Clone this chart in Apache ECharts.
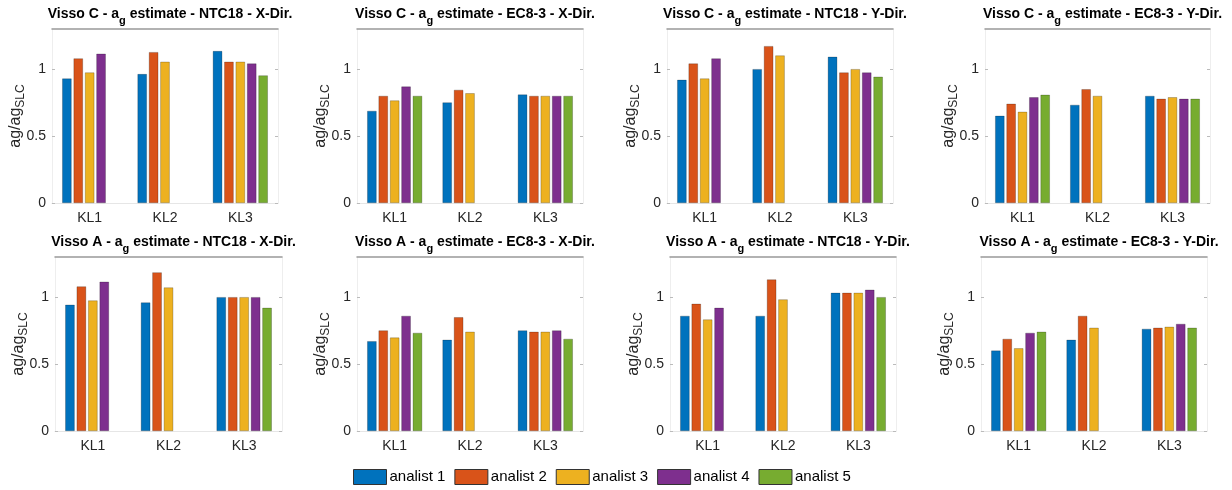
<!DOCTYPE html>
<html>
<head>
<meta charset="utf-8">
<script src="https://cdn.jsdelivr.net/npm/echarts@6/dist/echarts.min.js"></script>
<style>
  html, body { margin: 0; padding: 0; background: #fff; }
  #ec { width: 1232px; height: 490px; }
</style>
</head>
<body>
<div id="ec"></div>
<script>
const categories = ['KL1', 'KL2', 'KL3']
const analists = ['analist 1', 'analist 2', 'analist 3', 'analist 4', 'analist 5']
const yTicks = [0, 0.5, 1]

// one row per analist, values for KL1..KL3 (null = no bar)
const cNtcX = [[0.93, 0.963, 1.135], [1.08, 1.127, 1.055], [0.975, 1.055, 1.055], [1.115, null, 1.042], [null, null, 0.953]]
const cEcX = [[0.688, 0.751, 0.81], [0.80, 0.845, 0.80], [0.766, 0.82, 0.80], [0.87, null, 0.80], [0.80, null, 0.80]]
const cNtcY = [[0.92, 1.0, 1.092], [1.042, 1.172, 0.975], [0.93, 1.102, 1.0], [1.08, null, 0.975], [null, null, 0.943]]
const cEcY = [[0.651, 0.733, 0.80], [0.741, 0.85, 0.778], [0.681, 0.80, 0.79], [0.79, null, 0.778], [0.808, null, 0.778]]
const aNtcX = [[0.943, 0.96, 1.0], [1.08, 1.185, 1.0], [0.975, 1.072, 1.0], [1.115, null, 1.0], [null, null, 0.92]]
const aEcX = [[0.671, 0.681, 0.751], [0.751, 0.85, 0.741], [0.698, 0.741, 0.741], [0.86, null, 0.751], [0.733, null, 0.688]]
const aNtcY = [[0.86, 0.86, 1.032], [0.95, 1.132, 1.032], [0.833, 0.983, 1.032], [0.92, null, 1.055], [null, null, 1.0]]
const aEcY = [[0.601, 0.681, 0.763], [0.688, 0.86, 0.771], [0.618, 0.771, 0.778], [0.733, null, 0.80], [0.741, null, 0.771]]

const panels = [
  { site: 'Visso C', code: 'NTC18', dir: 'X', data: cNtcX },
  { site: 'Visso C', code: 'EC8-3', dir: 'X', data: cEcX },
  { site: 'Visso C', code: 'NTC18', dir: 'Y', data: cNtcY },
  { site: 'Visso C', code: 'EC8-3', dir: 'Y', data: cEcY },
  { site: 'Visso A', code: 'NTC18', dir: 'X', data: aNtcX },
  { site: 'Visso A', code: 'EC8-3', dir: 'X', data: aEcX },
  { site: 'Visso A', code: 'NTC18', dir: 'Y', data: aNtcY },
  { site: 'Visso A', code: 'EC8-3', dir: 'Y', data: aEcY }
]

// plot boxes: left, top, width, height
const boxes = [
  [52, 29, 226, 174], [357, 29, 226, 174], [667, 29, 226, 174], [985, 29, 225, 174],
  [55, 257, 227, 174], [357, 257, 226, 174], [670, 257, 226, 174], [981, 257, 226, 174]
]

const colors = ['#0072BD', '#D95319', '#EDB120', '#7E2F8E', '#77AC30']
const font = "'Liberation Sans', Arial, Helvetica, sans-serif"
const textColor = '#262626'

const grid = [], xAxis = [], yAxis = [], title = [], series = []

panels.forEach((p, i) => {
  const [l, t, w, h] = boxes[i]
  grid.push({ left: l, top: t, width: w, height: h, containLabel: false, outerBoundsMode: 'none' })

  title.push({
    text: '{b|' + p.site + ' - a}{s|g}{b| estimate - ' + p.code + ' - ' + p.dir + '-Dir.}',
    left: l + w / 2,
    top: t - 32,
    textAlign: 'center',
    textStyle: {
      rich: {
        b: { fontFamily: font, fontSize: 14, fontWeight: 'bold', color: '#000' },
        s: { fontFamily: font, fontSize: 11, fontWeight: 'bold', color: '#000', padding: [13, 0, 0, 0] }
      }
    }
  })

  xAxis.push({
    gridIndex: i,
    type: 'category',
    data: categories,
    axisLine: { onZero: false, lineStyle: { color: '#e6e6e6', width: 1 } },
    axisTick: { show: false },
    axisLabel: { color: textColor, fontSize: 14, fontFamily: font, margin: 8 },
    splitLine: { show: false }
  })
  xAxis.push({
    gridIndex: i,
    type: 'category',
    position: 'top',
    data: categories,
    axisLine: { onZero: false, lineStyle: { color: '#999', width: 1.5 } },
    axisTick: { show: false },
    axisLabel: { show: false },
    splitLine: { show: false }
  })

  yAxis.push({
    gridIndex: i,
    type: 'value',
    min: 0,
    max: 1.3,
    interval: 0.5,
    name: '{m|ag/ag}{s|SLC}',
    nameLocation: 'middle',
    nameGap: 25,
    nameRotate: 90,
    nameMoveOverlap: false,
    nameTextStyle: {
      rich: {
        m: { fontFamily: font, fontSize: 16, color: textColor },
        s: { fontFamily: font, fontSize: 12, color: textColor, padding: [10, 0, 0, 0] }
      }
    },
    axisLine: { show: true, onZero: false, lineStyle: { color: '#eeeeee' } },
    axisTick: { show: true, inside: true, length: 3, customValues: yTicks, lineStyle: { color: '#bbb' } },
    axisLabel: { color: textColor, fontSize: 14, fontFamily: font, margin: 6, customValues: yTicks },
    splitLine: { show: false }
  })
  yAxis.push({
    gridIndex: i,
    type: 'value',
    position: 'right',
    min: 0,
    max: 1.3,
    interval: 0.5,
    axisLine: { show: true, onZero: false, lineStyle: { color: '#eeeeee' } },
    axisTick: { show: true, inside: true, length: 3, customValues: yTicks, lineStyle: { color: '#bbb' } },
    axisLabel: { show: false },
    splitLine: { show: false }
  })

  p.data.forEach((vals, k) => {
    series.push({
      name: analists[k],
      type: 'bar',
      xAxisIndex: 2 * i,
      yAxisIndex: 2 * i,
      data: vals,
      barWidth: '12.4%',
      barGap: '22%',
      itemStyle: { color: colors[k], borderColor: 'rgba(0,0,0,0.45)', borderWidth: 0.5 },
      emphasis: { disabled: true }
    })
  })
})

const chart = echarts.init(document.getElementById('ec'))
chart.setOption({
  animation: false,
  color: colors,
  title: title,
  grid: grid,
  xAxis: xAxis,
  yAxis: yAxis,
  legend: {
    data: analists,
    left: 348,
    top: 464,
    icon: 'rect',
    itemWidth: 33,
    itemHeight: 15,
    itemGap: 9,
    selectedMode: false,
    itemStyle: { borderColor: '#333', borderWidth: 1 },
    textStyle: { fontFamily: font, fontSize: 15, color: '#000', padding: [0, 0, 0, -2] }
  },
  series: series
})
</script>
</body>
</html>
